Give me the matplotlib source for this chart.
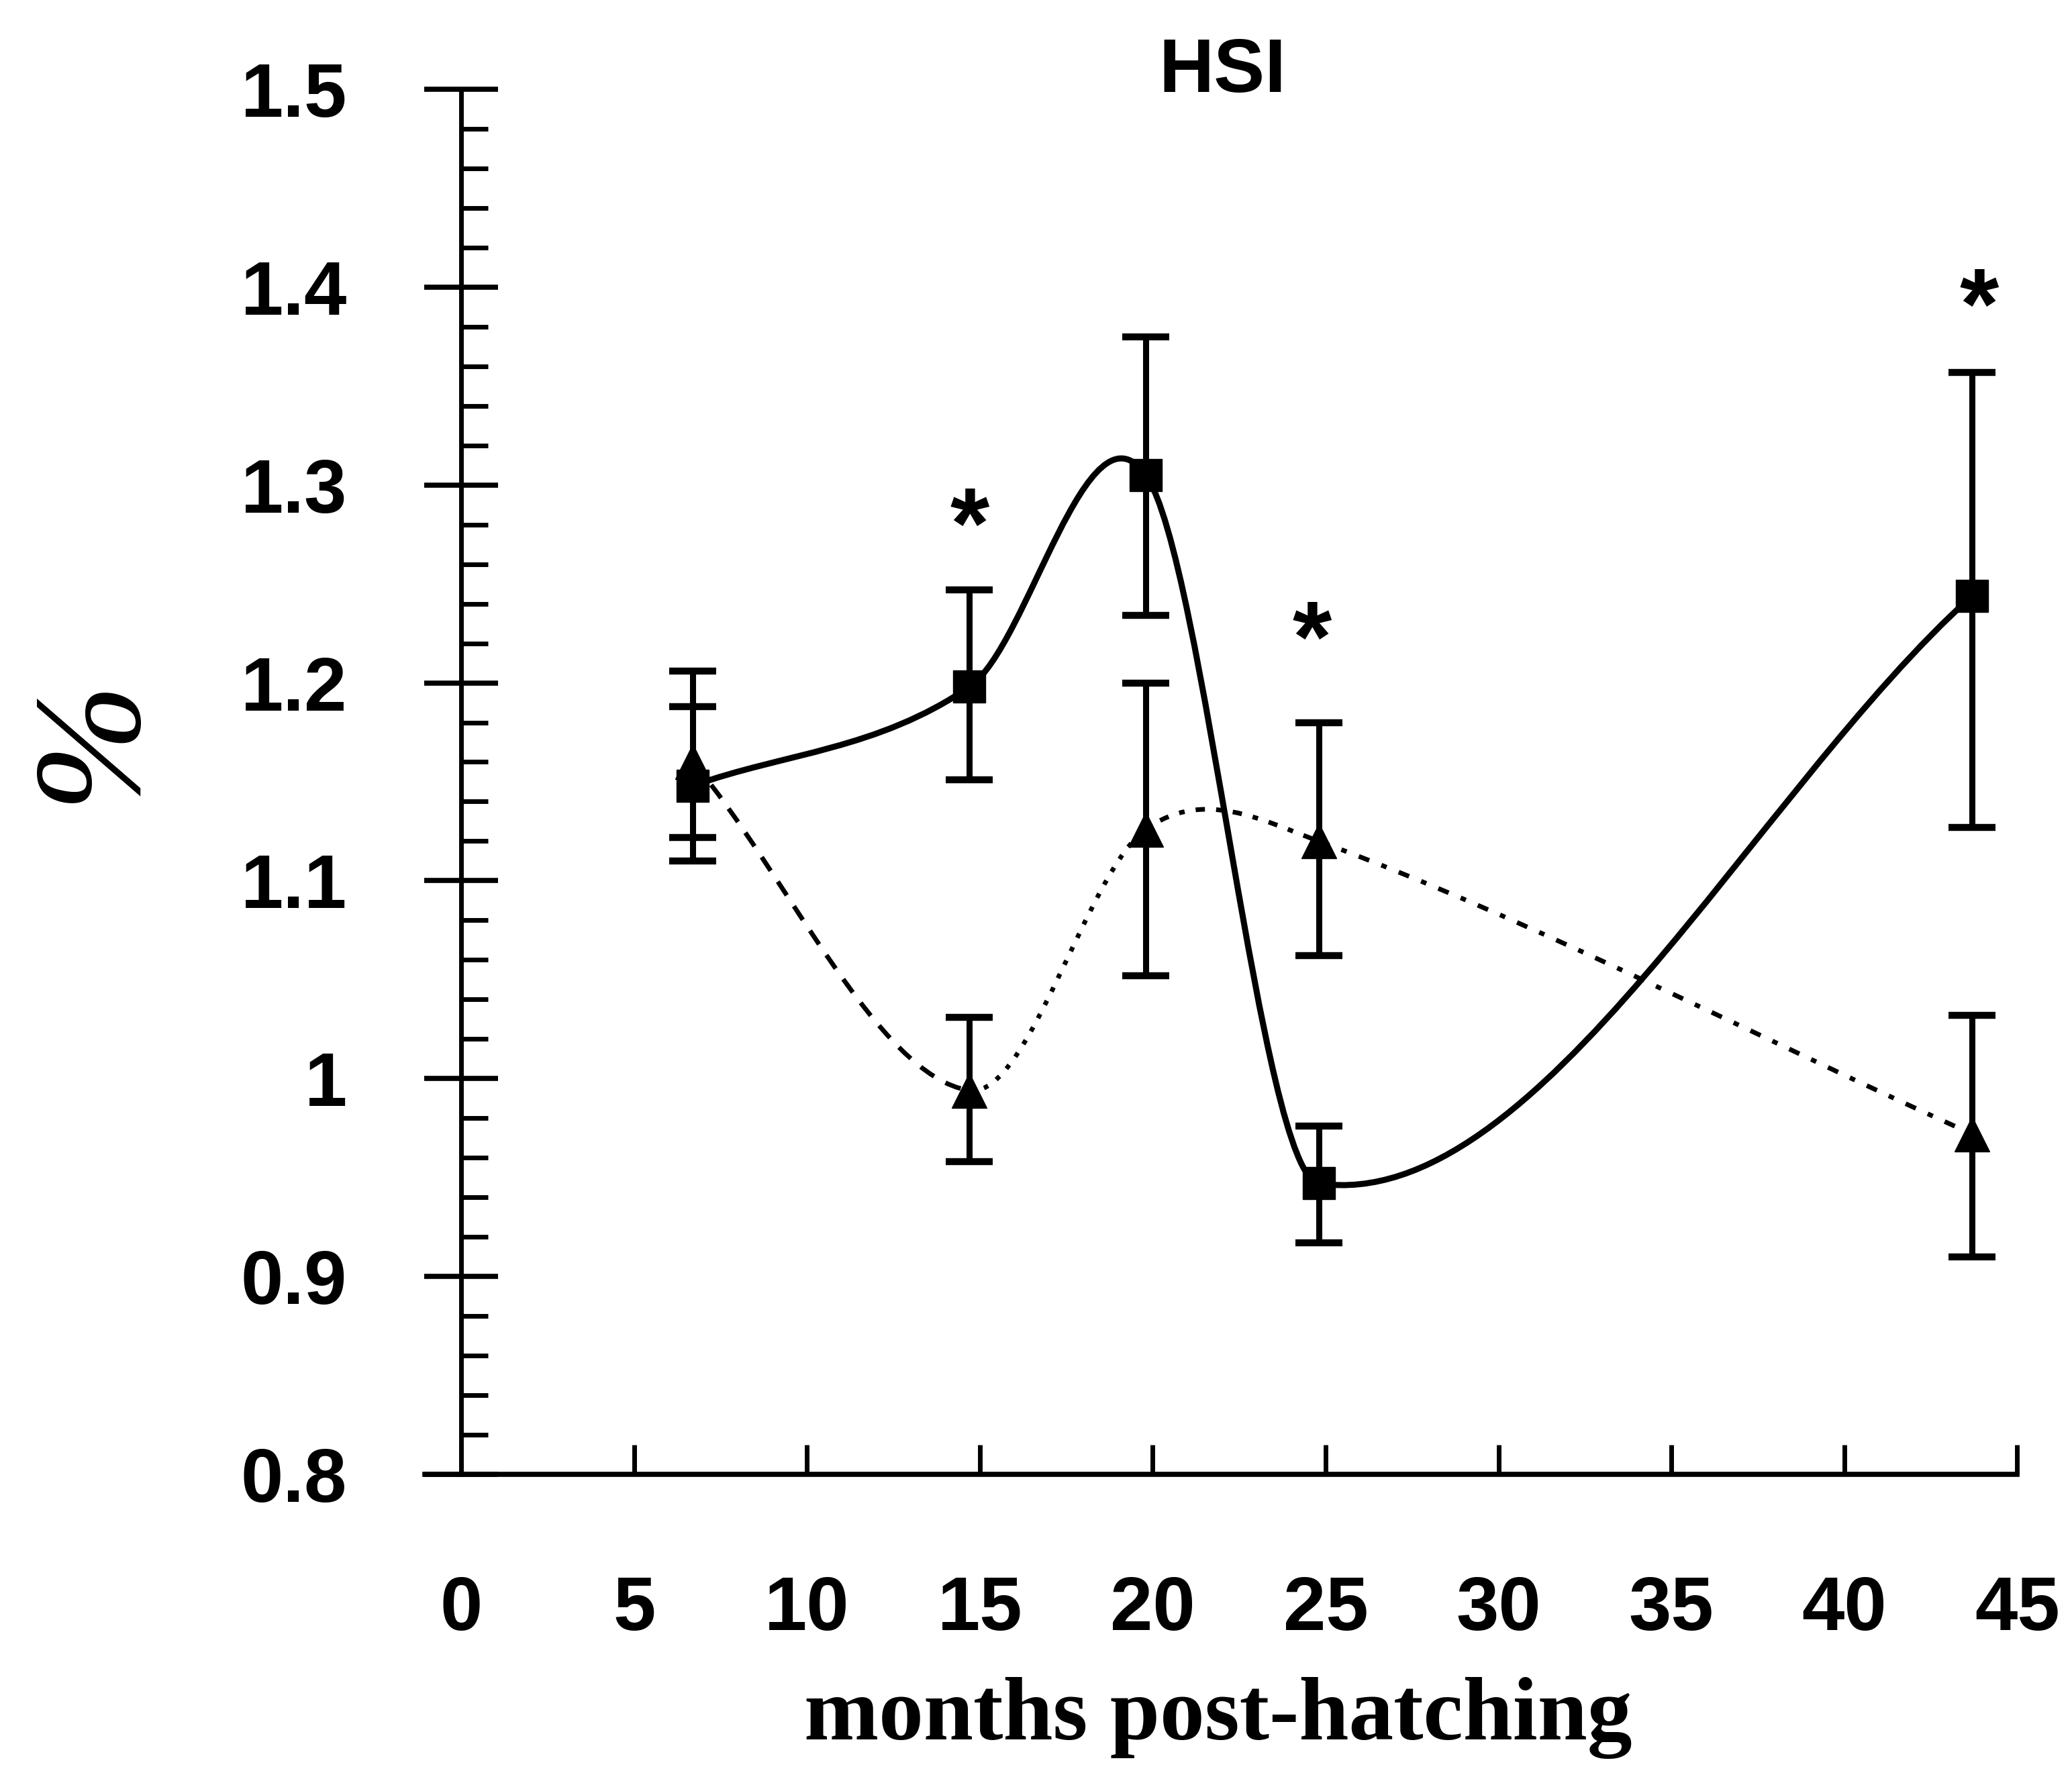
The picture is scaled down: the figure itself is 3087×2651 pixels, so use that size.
import numpy as np
import matplotlib
matplotlib.use("Agg")
import matplotlib.pyplot as plt
from matplotlib.path import Path
from matplotlib.patches import PathPatch

# months post-hatching (as placed on the original figure)
months = [6.7, 14.7, 19.8, 24.8, 43.7]

# squares (solid line)
sq_mean = [1.148, 1.198, 1.305, 0.947, 1.244]
sq_lo = [1.122, 1.151, 1.234, 0.917, 1.127]
sq_hi = [1.188, 1.247, 1.375, 0.976, 1.357]

# triangles (broken line)
tri_mean = [1.160, 0.994, 1.126, 1.120, 0.972]
tri_lo = [1.110, 0.958, 1.052, 1.062, 0.910]
tri_hi = [1.206, 1.031, 1.200, 1.180, 1.032]

# significance stars
star_x = [14.7, 24.6, 43.9]
star_y = [1.292, 1.235, 1.403]

xticks = [0, 5, 10, 15, 20, 25, 30, 35, 40, 45]
yticks = [0.8, 0.9, 1.0, 1.1, 1.2, 1.3, 1.4, 1.5]
ytick_labels = ["0.8", "0.9", "1", "1.1", "1.2", "1.3", "1.4", "1.5"]


def smooth_segments(xs, ys):
    """Cubic Hermite (Catmull-Rom like) segments as Bezier paths."""
    xs = np.asarray(xs, float)
    ys = np.asarray(ys, float)
    m = np.empty(len(xs))
    m[0] = (ys[1] - ys[0]) / (xs[1] - xs[0])
    m[-1] = (ys[-1] - ys[-2]) / (xs[-1] - xs[-2])
    m[1:-1] = (ys[2:] - ys[:-2]) / (xs[2:] - xs[:-2])
    segs = []
    for i in range(len(xs) - 1):
        d = (xs[i + 1] - xs[i]) / 3.0
        verts = [(xs[i], ys[i]),
                 (xs[i] + d, ys[i] + m[i] * d),
                 (xs[i + 1] - d, ys[i + 1] - m[i + 1] * d),
                 (xs[i + 1], ys[i + 1])]
        segs.append(Path(verts, [Path.MOVETO, Path.CURVE4, Path.CURVE4, Path.CURVE4]))
    return segs


fig = plt.figure(figsize=(30.87, 26.51), dpi=100)
ax = fig.add_axes([0.2051, 0.1713, 0.7684, 0.7785])

ax.set_xlim(-1.05, 45)
ax.set_ylim(0.8, 1.5)

for s in ["top", "right"]:
    ax.spines[s].set_visible(False)
ax.spines["left"].set_position(("data", 0))
ax.spines["left"].set_linewidth(5)
ax.spines["bottom"].set_linewidth(5.5)

# solid curve through squares
for p in smooth_segments(months, sq_mean):
    ax.add_patch(PathPatch(p, fill=False, lw=6.5, ec="black", zorder=3))

# broken curve through triangles, each stretch drawn differently
tri_styles = [(0, (3.5, 2.8)), (0, (1.0, 2.2)), (0, (1.2, 2.4, 2.0, 2.4)), (0, (2.4, 2.8, 1.2, 2.8))]
for p, ls in zip(smooth_segments(months, tri_mean), tri_styles):
    ax.add_patch(PathPatch(p, fill=False, lw=5, ec="black", ls=ls, zorder=3))

sq_err = [np.subtract(sq_mean, sq_lo), np.subtract(sq_hi, sq_mean)]
tri_err = [np.subtract(tri_mean, tri_lo), np.subtract(tri_hi, tri_mean)]

ax.errorbar(months, tri_mean, yerr=tri_err, fmt="^", color="black", ms=38,
            elinewidth=6.5, capsize=25, capthick=7.5, zorder=4)
ax.errorbar(months, sq_mean, yerr=sq_err, fmt="s", color="black", ms=34,
            elinewidth=6.5, capsize=25, capthick=7.5, zorder=5)

for x, y in zip(star_x, star_y):
    ax.annotate("*", (x, y), xytext=(0, -62), textcoords="offset points",
                ha="center", va="baseline", fontsize=108, fontweight="bold",
                family="Liberation Sans")

# ticks
ax.set_xticks(xticks)
ax.set_xticklabels([str(t) for t in xticks])
ax.set_yticks(yticks)
ax.set_yticklabels(ytick_labels)
ax.set_yticks(np.arange(0.82, 1.5, 0.02), minor=True)

ax.tick_params(axis="x", direction="in", length=32, width=5, pad=108)
ax.tick_params(axis="y", which="major", direction="inout", length=79, width=5.5, pad=83)
ax.tick_params(axis="y", which="minor", direction="in", length=29, width=5)
for lab in ax.get_xticklabels() + ax.get_yticklabels():
    lab.set_family("Liberation Sans")
    lab.set_fontweight("bold")
    lab.set_fontsize(82)

fig.text(1821 / 3087, 1 - 108 / 2651, "HSI", ha="center", va="center",
         fontsize=82, fontweight="bold", family="Liberation Sans")
fig.text(1815 / 3087, 1 - 2560 / 2651, "months post-hatching", ha="center", va="center",
         fontsize=96, fontweight="bold", family="Liberation Serif")
fig.text(140 / 3087, 1 - 1101 / 2651, "%", ha="center", va="center", rotation=90,
         fontsize=165, style="italic", family="Liberation Serif")

fig.savefig("out.png", dpi=100)
